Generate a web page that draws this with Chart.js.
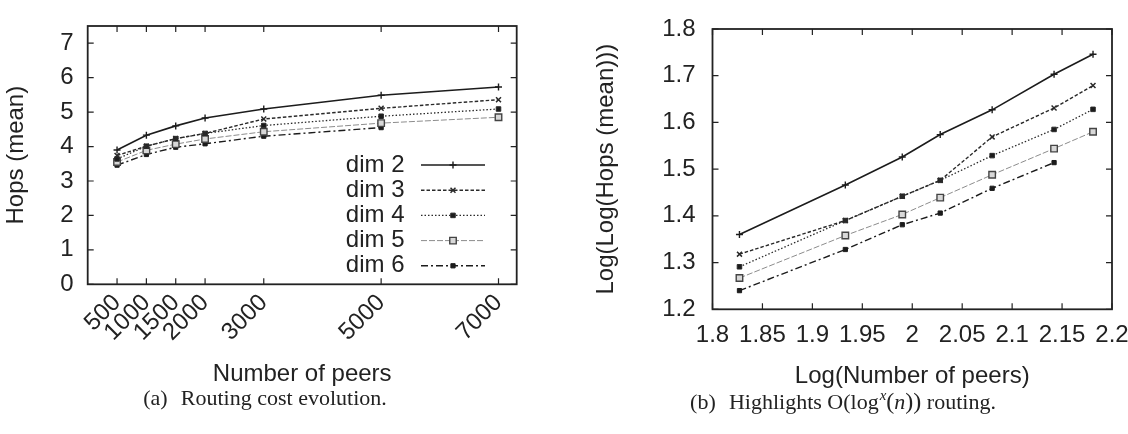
<!DOCTYPE html>
<html><head><meta charset="utf-8">
<script src="https://cdn.jsdelivr.net/npm/chart.js@4"></script>
<style>
html,body{margin:0;padding:0;background:#fff;overflow:hidden;width:1128px;height:434px;position:relative;}
#wrapL{position:absolute;left:0;top:0;width:560px;height:390px;}
#wrapR{position:absolute;left:560px;top:0;width:600px;height:390px;}
.cap{position:absolute;font-family:"Liberation Serif","Times New Roman",serif;font-size:22px;color:#222;white-space:nowrap;transform:translate(-50%,-50%);line-height:1;}
.cap i{font-style:italic;}
.cap sup{font-size:15px;vertical-align:9px;line-height:0;margin-left:1px;}
.mp{font-size:24px;}
</style></head><body>
<div id="wrapL"><canvas id="cL" width="560" height="390"></canvas></div>
<div id="wrapR"><canvas id="cR" width="600" height="390"></canvas></div>
<div class="cap" style="left:265px;top:398px">(a)<span style="margin-left:0.6em">Routing cost evolution.</span></div>
<div class="cap" style="left:843px;top:401px">(b)<span style="margin-left:0.6em">Highlights O(log<sup><i>x</i></sup><span class="mp">(</span><i>n</i><span class="mp">))</span> routing.</span></div>
<script>
// ---- data ----
const peers = [500, 1000, 1500, 2000, 3000, 5000, 7000];
const logPeers = [1.827, 1.933, 1.990, 2.028, 2.080, 2.142, 2.181];
const seriesNames = ['dim 2', 'dim 3', 'dim 4', 'dim 5', 'dim 6'];

const hopsDim2 = [3.90, 4.33, 4.60, 4.83, 5.09, 5.49, 5.73];
const hopsDim3 = [3.74, 4.01, 4.23, 4.38, 4.80, 5.11, 5.36];
const hopsDim4 = [3.64, 4.01, 4.23, 4.38, 4.61, 4.88, 5.09];
const hopsDim5 = [3.55, 3.89, 4.07, 4.22, 4.43, 4.68, 4.85];
const hopsDim6 = [3.46, 3.77, 3.98, 4.08, 4.30, 4.55];

const logHopsDim2 = [1.360, 1.466, 1.526, 1.574, 1.627, 1.703, 1.746];
const logHopsDim3 = [1.318, 1.390, 1.442, 1.476, 1.569, 1.631, 1.679];
const logHopsDim4 = [1.291, 1.390, 1.442, 1.476, 1.529, 1.585, 1.628];
const logHopsDim5 = [1.267, 1.358, 1.403, 1.439, 1.488, 1.544, 1.580];
const logHopsDim6 = [1.240, 1.328, 1.381, 1.406, 1.459, 1.514];

const leftXTicks = [500, 1000, 1500, 2000, 3000, 5000, 7000];
const leftYTicks = [0, 1, 2, 3, 4, 5, 6, 7];
const rightXTicks = [1.8, 1.85, 1.9, 1.95, 2, 2.05, 2.1, 2.15, 2.2];
const rightYTicks = [1.2, 1.3, 1.4, 1.5, 1.6, 1.7, 1.8];

// ---- styles ----
const FONT = '"Liberation Sans", Arial, Helvetica, sans-serif';
const INK = '#222';
const styles = [
  {color:'#1c1c1c', width:1.6, dash:[],          point:'cross',    r:3.5, fill:'#1c1c1c', pb:1.4},
  {color:'#2a2a2a', width:1.4, dash:[3.5,2],     point:'crossRot', r:3.5, fill:'#2a2a2a', pb:1.5},
  {color:'#2a2a2a', width:1.3, dash:[1.5,2],     point:'rect',     r:3.2, fill:'#1c1c1c', pb:1},
  {color:'#8c8c8c', width:1.0, dash:[6,2],       point:'rect',     r:4.6, fill:'#d8d8d8', pb:1.4, pbc:'#444'},
  {color:'#1c1c1c', width:1.4, dash:[7,3,2,3],   point:'rect',     r:3.0, fill:'#1c1c1c', pb:1}
];

function makeDatasets(xs, ys) {
  return ys.map((arr, i) => {
    const s = styles[i];
    return {
      label: seriesNames[i],
      data: arr.map((v, k) => ({x: xs[k], y: v})),
      borderColor: s.color,
      borderWidth: s.width,
      borderDash: s.dash,
      pointStyle: s.point,
      pointRadius: s.r,
      pointHoverRadius: s.r,
      pointBackgroundColor: s.fill,
      pointBorderColor: s.pbc || s.color,
      pointBorderWidth: s.pb,
      fill: false,
      tension: 0
    };
  });
}

Chart.defaults.font.family = FONT;
Chart.defaults.font.size = 24;
Chart.defaults.color = INK;
Chart.defaults.animation = false;

const framePlugin = {
  id: 'frame',
  afterDatasetsDraw(chart) {
    const {ctx, chartArea: a, scales: {x, y}} = chart;
    const L = 6;
    ctx.save();
    ctx.strokeStyle = '#222';
    ctx.lineWidth = 1.2;
    ctx.setLineDash([]);
    ctx.beginPath();
    x.ticks.forEach(t => {
      const p = x.getPixelForValue(t.value);
      ctx.moveTo(p, a.bottom); ctx.lineTo(p, a.bottom - L);
      ctx.moveTo(p, a.top); ctx.lineTo(p, a.top + L);
    });
    y.ticks.forEach(t => {
      const p = y.getPixelForValue(t.value);
      ctx.moveTo(a.left, p); ctx.lineTo(a.left + L, p);
      ctx.moveTo(a.right, p); ctx.lineTo(a.right - L, p);
    });
    ctx.stroke();
    ctx.lineWidth = 1.8;
    ctx.strokeRect(a.left, a.top, a.right - a.left, a.bottom - a.top);
    ctx.restore();
  }
};

const legendPlugin = {
  id: 'inlegend',
  afterDraw(chart) {
    const ctx = chart.ctx;
    const textRight = 404.5, x0 = 421, x1 = 485, xm = 453, y0 = 165, step = 25.2;
    ctx.save();
    chart.data.datasets.forEach((ds, i) => {
      const yy = y0 + i * step;
      ctx.font = '24px ' + FONT;
      ctx.textAlign = 'right';
      ctx.textBaseline = 'middle';
      ctx.fillStyle = INK;
      ctx.fillText(ds.label, textRight, yy);
      ctx.beginPath();
      ctx.setLineDash(ds.borderDash);
      ctx.strokeStyle = ds.borderColor;
      ctx.lineWidth = ds.borderWidth;
      ctx.moveTo(x0, yy); ctx.lineTo(x1, yy);
      ctx.stroke();
      ctx.setLineDash([]);
      ctx.fillStyle = ds.pointBackgroundColor;
      ctx.strokeStyle = ds.pointBorderColor;
      ctx.lineWidth = ds.pointBorderWidth;
      Chart.helpers.drawPoint(ctx, {pointStyle: ds.pointStyle, radius: ds.pointRadius, borderWidth: ds.pointBorderWidth, rotation: 0}, xm, yy);
    });
    ctx.restore();
  }
};

// ---- left chart ----
new Chart(document.getElementById('cL'), {
  type: 'line',
  data: {datasets: makeDatasets(peers, [hopsDim2, hopsDim3, hopsDim4, hopsDim5, hopsDim6])},
  options: {
    responsive: false,
    layout: {padding: {left: 0, top: 15.7, right: 43.3, bottom: 0}},
    plugins: {legend: {display: false}, tooltip: {enabled: false}},
    scales: {
      x: {
        type: 'linear', min: 0, max: 7310,
        grid: {display: false, drawTicks: false},
        border: {display: false},
        afterBuildTicks: s => { s.ticks = leftXTicks.map(v => ({value: v})); },
        afterFit: s => { s.height = 390 - 284.3; },
        ticks: {autoSkip: false, minRotation: 45, maxRotation: 45, padding: 6, font: {size: 24, lineHeight: 1}, callback: v => String(v)},
        title: {display: true, text: 'Number of peers', font: {size: 24, lineHeight: 1}, padding: {top: 0, bottom: 4}}
      },
      y: {
        type: 'linear', min: 0, max: 7.5,
        grid: {display: false, drawTicks: false},
        border: {display: false},
        afterBuildTicks: s => { s.ticks = leftYTicks.map(v => ({value: v})); },
        afterFit: s => { s.width = 87.7; },
        ticks: {padding: 14, font: {size: 24, lineHeight: 1}, callback: v => String(v)},
        title: {display: true, text: 'Hops (mean)', font: {size: 24, lineHeight: 1}, padding: {top: 4, bottom: 0}}
      }
    }
  },
  plugins: [framePlugin, legendPlugin]
});

// ---- right chart ----
new Chart(document.getElementById('cR'), {
  type: 'line',
  data: {datasets: makeDatasets(logPeers, [logHopsDim2, logHopsDim3, logHopsDim4, logHopsDim5, logHopsDim6])},
  options: {
    responsive: false,
    layout: {padding: {left: 0, top: 16, right: 48, bottom: 0}},
    plugins: {legend: {display: false}, tooltip: {enabled: false}},
    scales: {
      x: {
        type: 'linear', min: 1.8, max: 2.2,
        grid: {display: false, drawTicks: false},
        border: {display: false},
        afterBuildTicks: s => { s.ticks = rightXTicks.map(v => ({value: v})); },
        afterFit: s => { s.height = 390 - 309.3; },
        ticks: {autoSkip: false, minRotation: 0, maxRotation: 0, padding: 14, font: {size: 24, lineHeight: 1}, callback: v => String(v)},
        title: {display: true, text: 'Log(Number of peers)', font: {size: 24, lineHeight: 1}, padding: {top: 0, bottom: 2}}
      },
      y: {
        type: 'linear', min: 1.2, max: 1.8,
        grid: {display: false, drawTicks: false},
        border: {display: false},
        afterBuildTicks: s => { s.ticks = rightYTicks.map(v => ({value: v})); },
        afterFit: s => { s.width = 152.5; },
        ticks: {padding: 17, font: {size: 24, lineHeight: 1}, callback: v => String(v)},
        title: {display: true, text: 'Log(Log(Hops (mean)))', font: {size: 24, lineHeight: 1}, padding: {top: 34, bottom: 0}}
      }
    }
  },
  plugins: [framePlugin]
});
</script>
</body></html>
